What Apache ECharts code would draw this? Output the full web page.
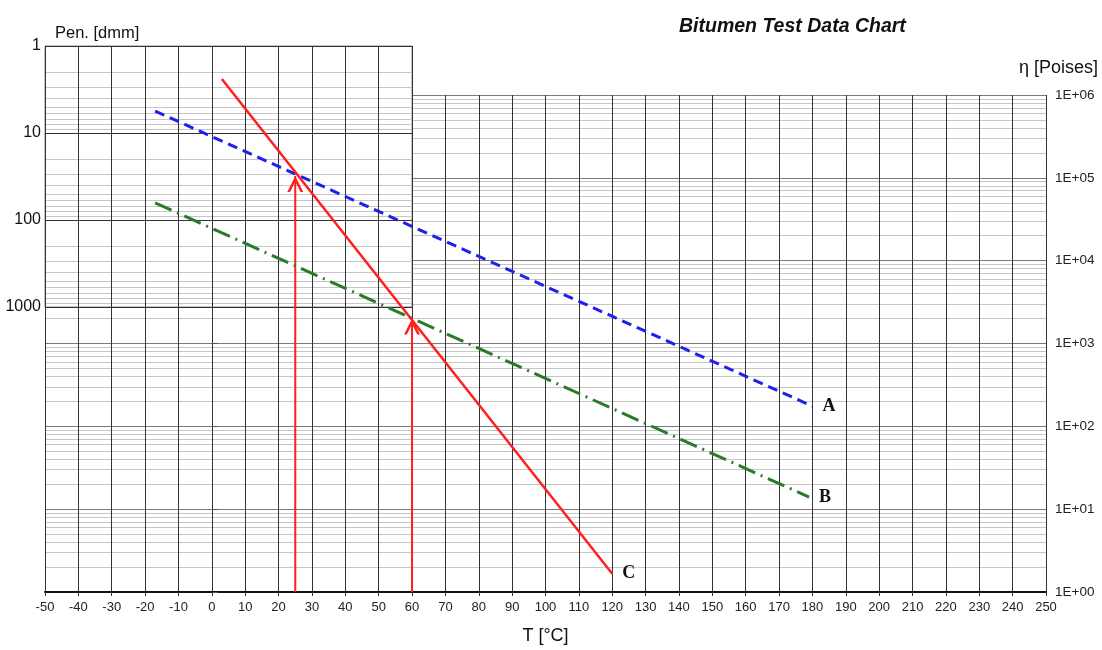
<!DOCTYPE html>
<html>
<head>
<meta charset="utf-8">
<script src="https://cdn.jsdelivr.net/npm/echarts@6/dist/echarts.min.js"></script>
<style>
html, body { margin: 0; padding: 0; background: #fff; }
#chart { width: 1102px; height: 650px; }
</style>
</head>
<body>
<div id="chart"></div>
<script>
// Temperature axis (°C)
const tempMin = -50, tempMax = 250, tempStep = 10;
const penTempMax = 60;
// Penetration axis (dmm), log scale running top-down
const penMin = 1, penMax = 1000;
// Viscosity axis (Poises), log scale
const etaMin = 1, etaMax = 1e6;

// Bitumen curves: temperature end points and matching viscosities
const curveA_T = [-17, 180];
const curveA_eta = [6.4e5, 175];
const curveB_T = [-17, 179];
const curveB_eta = [5.0e4, 14];
const curveC_T = [3, 120];
const curveC_eta = [1.56e6, 1.66];

// Reading arrows: temperature and viscosity where each meets the curves
const arrowT = [25, 60];
const arrowEta = [1.05e5, 2.0e3];

// Intermediate log gridlines (2..9 within each decade)
function minorLogValues(lo, hi) {
  const out = [];
  for (let d = lo; d < hi; d *= 10) {
    for (let k = 2; k <= 9; k++) out.push(d * k);
  }
  return out;
}
const etaMinor = minorLogValues(etaMin, etaMax);
const penMinor = minorLogValues(penMin, penMax);

const FONT = "'Liberation Sans', Arial, sans-serif";
const SERIF = "'Liberation Serif', 'Times New Roman', serif";
const RED = '#ff1f1f', BLUE = '#1f1ff0', GREEN = '#2b7a2b';
const ARROW_HEAD = 'path://M0,16 L8,0 L16,16 L13.2,16 L8,5.5 L2.8,16 Z';

function curve(T, eta, name, color, type, width) {
  return {
    type: 'line', name: name, xAxisIndex: 0, yAxisIndex: 0,
    z: 8, clip: false, silent: true, symbol: 'none',
    data: T.map((t, i) => [t, eta[i]]),
    lineStyle: { color: color, width: width, type: type },
    endLabel: {
      show: true, formatter: name, distance: 10,
      fontFamily: SERIF, fontWeight: 'bold', fontSize: 18, color: '#111'
    }
  };
}

function minorLines(values, xi, yi, z) {
  return {
    type: 'line', xAxisIndex: xi, yAxisIndex: yi, data: [], silent: true, z: z,
    markLine: {
      z: z, silent: true, symbol: ['none', 'none'], label: { show: false },
      lineStyle: { color: '#c6c6c6', width: 1, type: 'solid' },
      emphasis: { disabled: true },
      data: values.map(v => ({ yAxis: v }))
    }
  };
}

const arrows = arrowT.map((t, i) => ({
  type: 'line', xAxisIndex: 0, yAxisIndex: 0, z: 7, silent: true,
  symbol: ARROW_HEAD, symbolSize: [16, 16], symbolOffset: [0, 8], showSymbol: true,
  itemStyle: { color: RED, borderWidth: 0 },
  lineStyle: { color: RED, width: 2 },
  data: [{ value: [t, etaMin], symbol: 'none' }, [t, arrowEta[i]]]
}));

const option = {
  animation: false,
  backgroundColor: '#fff',
  title: [
    { text: 'Bitumen Test Data Chart', left: 679, top: 17, padding: 0,
      textStyle: { fontFamily: FONT, fontSize: 19.5, fontWeight: 'bold', fontStyle: 'italic', color: '#111' } },
    { text: 'Pen. [dmm]', left: 55, top: 25, padding: 0,
      textStyle: { fontFamily: FONT, fontSize: 16.5, fontWeight: 'normal', color: '#111' } },
    { text: 'η [Poises]', right: 4, top: 59, padding: 0,
      textStyle: { fontFamily: FONT, fontSize: 18, fontWeight: 'normal', color: '#111' } }
  ],
  grid: [
    { left: 45, right: 56, top: 95, bottom: 55, z: 0 },
    { left: 45, top: 46, width: 367, height: 261, show: true, backgroundColor: '#fff',
      borderColor: '#8a8a8a', borderWidth: 1, z: 3 }
  ],
  xAxis: [
    { gridIndex: 0, type: 'value', min: tempMin, max: tempMax, interval: tempStep, z: 2,
      name: 'T [°C]', nameLocation: 'middle', nameGap: 35,
      nameTextStyle: { fontFamily: FONT, fontSize: 18, color: '#111' },
      axisLine: { show: true, onZero: false, lineStyle: { color: '#111', width: 2 } },
      axisTick: { show: true, length: 4, lineStyle: { color: '#333' } },
      axisLabel: { interval: 0, margin: 9, fontFamily: FONT, fontSize: 13, color: '#222' },
      splitLine: { show: true, lineStyle: { color: '#333', width: 1 } } },
    { gridIndex: 1, type: 'value', min: tempMin, max: penTempMax, interval: tempStep, z: 5,
      axisLine: { show: false }, axisTick: { show: false }, axisLabel: { show: false },
      splitLine: { show: true, lineStyle: { color: '#333', width: 1 } } }
  ],
  yAxis: [
    { gridIndex: 0, type: 'log', logBase: 10, min: etaMin, max: etaMax, position: 'right', z: 2,
      axisLine: { show: true, lineStyle: { color: '#333', width: 1 } },
      axisTick: { show: true, length: 6, lineStyle: { color: '#555' } },
      axisLabel: { margin: 9, fontFamily: FONT, fontSize: 13.5, color: '#222',
        formatter: v => '1E+' + String(Math.round(Math.log10(v))).padStart(2, '0') },
      splitLine: { show: true, lineStyle: { color: '#7a7a7a', width: 1 } } },
    { gridIndex: 1, type: 'log', logBase: 10, min: penMin, max: penMax, inverse: true, position: 'left', z: 5,
      axisLine: { show: false }, axisTick: { show: false },
      axisLabel: { margin: 4, fontFamily: FONT, fontSize: 16, color: '#111',
        formatter: v => String(Math.round(v)) },
      splitLine: { show: true, lineStyle: { color: '#333', width: 1 } } }
  ],
  series: [
    minorLines(etaMinor, 0, 0, 1),
    minorLines(penMinor, 1, 1, 4),
    ...arrows,
    curve(curveA_T, curveA_eta, 'A', BLUE, [10, 6], 3),
    curve(curveB_T, curveB_eta, 'B', GREEN, [18, 6, 2, 6], 3),
    curve(curveC_T, curveC_eta, 'C', RED, 'solid', 2.5)
  ]
};

const chart = echarts.init(document.getElementById('chart'), null, { renderer: 'canvas' });
chart.setOption(option);
</script>
</body>
</html>
